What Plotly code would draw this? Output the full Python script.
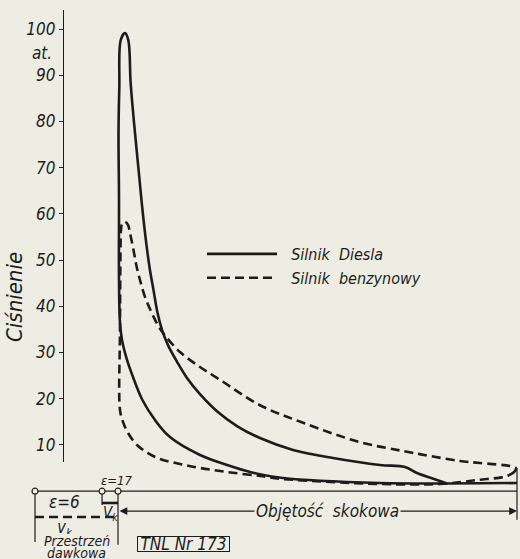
import plotly.graph_objects as go

# ---------------- data ----------------
# volume axis: piston displacement in % of stroke, 0 = TDC, 100 = BDC
STROKE = 100.0
VK_PETROL = 20.8   # clearance volume drawn for petrol engine (eps = 6)
VK_DIESEL = 4.0    # clearance volume drawn for Diesel engine (eps = 17)
Y_TICKS = [10, 20, 30, 40, 50, 60, 70, 80, 90, 100]

# Diesel engine (solid) indicator diagram, pressure in at
diesel_v = [100.0, 82.46, 65.66, 41.35, 33.08, 27.32, 20.55, 13.03, 9.27, 6.02, 3.76, 2.26,
            1.0, 0.5,
            0.25, 0.25, 0.13, 0.33, 0.68, 1.75,
            2.58, 3.13, 3.51, 4.26, 5.09, 5.89, 6.77, 7.89, 8.90, 9.90, 11.03, 12.53,
            14.79, 17.29, 20.55, 24.81, 29.82, 35.59, 43.86, 53.88, 65.66, 71.93,
            74.94, 79.95, 82.46]
diesel_p = [1.77, 1.67, 1.77, 2.86, 4.15, 5.67, 7.83, 11.7, 15.4, 19.9, 24.7, 28.4,
            32.7, 36.4,
            45.7, 63.4, 77.5, 87.5, 97.6, 99.1,
            97.6, 88.9, 84.6, 77.5, 70.1, 62.9, 55.9, 48.5, 43.5, 38.6, 34.9, 31.6,
            28.0, 24.5, 21.0, 17.3, 14.1, 11.5, 8.92, 7.18, 5.67, 5.24,
            3.94, 2.42, 1.67]

# petrol engine (dashed) indicator diagram
petrol_v = [99.7, 99.5, 97.5, 90.0, 80.7, 65.7, 41.35, 35.59, 27.32, 20.55, 15.54, 10.53,
            7.52, 4.76, 2.51, 1.25, 0.5,
            0.5, 0.63, 0.75, 1.0, 1.75, 2.51, 3.0, 3.88, 4.69, 5.51, 6.77,
            8.45, 10.28, 12.53, 15.54, 19.80, 25.56, 35.59, 46.4, 60.7, 71.4, 78.2,
            85.7, 90.7, 98.2, 99.7]
petrol_p = [5.02, 4.37, 3.29, 2.42, 1.56, 1.56, 2.64, 3.29, 4.15, 5.02, 5.89, 6.97,
            8.26, 10.0, 12.6, 15.0, 17.6,
            34.9, 52.2, 56.5, 57.8, 58.3, 57.6, 55.9, 52.2, 48.5, 45.7, 42.0,
            38.6, 35.5, 32.9, 30.1, 27.3, 24.1, 18.6, 14.8, 10.6, 8.70, 7.62,
            6.53, 6.10, 5.45, 5.02]

# ---------------- styling ----------------
PAPER = "#eeede3"
INK = "#1c1c1c"
FONT = "DejaVu Sans Condensed, Liberation Sans Narrow, DejaVu Sans, sans-serif"

W, H = 520, 559
X_RANGE = [-29.574, 100.752]
Y_RANGE = [-14.669, 106.274]

fig = go.Figure()

fig.add_trace(go.Scatter(x=diesel_v, y=diesel_p, mode="lines",
                         name="&nbsp;&nbsp;Silnik&nbsp;&nbsp;Diesla",
                         line=dict(color=INK, width=2.6, shape="spline", smoothing=1.0),
                         hoverinfo="skip"))
fig.add_trace(go.Scatter(x=petrol_v, y=petrol_p, mode="lines",
                         name="&nbsp;&nbsp;Silnik&nbsp;&nbsp;benzynowy",
                         line=dict(color=INK, width=2.6, dash="9px,5px", shape="spline", smoothing=1.0),
                         hoverinfo="skip"))

# dummy trace for the visible pressure axis
fig.add_trace(go.Scatter(x=[50], y=[50], mode="markers", marker=dict(opacity=0),
                         yaxis="y2", showlegend=False, hoverinfo="skip"))

# ---------- volume scale under the diagram ----------
thin = dict(color=INK, width=1.2)
fig.add_trace(go.Scatter(x=[-VK_PETROL, STROKE], y=[0, 0], mode="lines", line=thin,
                         showlegend=False, hoverinfo="skip"))
fig.add_trace(go.Scatter(x=[-VK_PETROL, -VK_PETROL], y=[0, -11.0], mode="lines", line=thin,
                         showlegend=False, hoverinfo="skip"))
fig.add_trace(go.Scatter(x=[0, 0], y=[0, -11.6], mode="lines", line=thin,
                         showlegend=False, hoverinfo="skip"))
fig.add_trace(go.Scatter(x=[-VK_DIESEL, -VK_DIESEL], y=[0, -3.0], mode="lines", line=thin,
                         showlegend=False, hoverinfo="skip"))
fig.add_trace(go.Scatter(x=[STROKE, STROKE], y=[5.0, -6.2], mode="lines", line=thin,
                         showlegend=False, hoverinfo="skip"))
fig.add_trace(go.Scatter(x=[-VK_DIESEL, 0], y=[-2.55, -2.55], mode="lines",
                         line=dict(color=INK, width=2.6), showlegend=False, hoverinfo="skip"))
fig.add_trace(go.Scatter(x=[-VK_PETROL, 0], y=[-5.58, -5.58], mode="lines",
                         line=dict(color=INK, width=2.6, dash="9px,5px"),
                         showlegend=False, hoverinfo="skip"))
fig.add_trace(go.Scatter(x=[-VK_PETROL, -VK_DIESEL, 0], y=[0, 0, 0], mode="markers",
                         marker=dict(symbol="circle", size=6, color=PAPER,
                                     line=dict(color=INK, width=1.2)),
                         showlegend=False, hoverinfo="skip"))

tf = dict(family=FONT, size=17, color=INK, style="italic")
sf = dict(family=FONT, size=14, color=INK, style="italic")

# double arrow for the stroke volume
fig.add_annotation(x=STROKE, y=-4.3, ax=0, ay=-4.3, xref="x", yref="y", axref="x", ayref="y",
                   text="", showarrow=True, arrowhead=2, arrowside="end+start",
                   arrowsize=1.3, arrowwidth=1.2, arrowcolor=INK)
fig.add_annotation(x=52.6, y=-4.3, xref="x", yref="y", text="Objętość&nbsp;&nbsp;skokowa",
                   showarrow=False, font=tf, bgcolor=PAPER)

fig.add_annotation(x=-0.25, y=2.4, xref="x", yref="y", text="ε=17", showarrow=False,
                   font=dict(family=FONT, size=13, color=INK, style="italic"))
fig.add_annotation(x=-13.3, y=-2.4, xref="x", yref="y", text="ε=6", showarrow=False, font=tf)
fig.add_annotation(x=-2.0, y=-4.9, xref="x", yref="y", text="V<sub>k</sub>", showarrow=False,
                   font=dict(family=FONT, size=15, color=INK, style="italic"))
fig.add_annotation(x=-13.3, y=-8.0, xref="x", yref="y", text="V<sub>k</sub>", showarrow=False,
                   font=dict(family=FONT, size=15, color=INK, style="italic"), height=11)
fig.add_annotation(x=-10.3, y=-10.6, xref="x", yref="y", text="Przestrzeń", showarrow=False,
                   font=sf, height=11)
fig.add_annotation(x=-10.3, y=-13.3, xref="x", yref="y", text="dawkowa", showarrow=False,
                   font=sf, height=11)
fig.add_annotation(x=16.4, y=-11.5, xref="x", yref="y", text="TNL&nbsp;Nr&nbsp;173", showarrow=False,
                   font=dict(family=FONT, size=17, color=INK, style="italic"),
                   width=91, height=14, bordercolor=INK, borderwidth=1, borderpad=0)

# axis labels
fig.add_annotation(x=-19.0, y=94.8, xref="x", yref="y", text="at.", showarrow=False, font=tf)
fig.add_annotation(x=14 / W, y=1 - 297 / H, xref="paper", yref="paper", text="Ciśnienie",
                   textangle=-90, showarrow=False, xanchor="center", yanchor="middle",
                   font=dict(family=FONT, size=22, color=INK, style="italic"))

fig.update_layout(
    width=W, height=H, autosize=False,
    margin=dict(l=0, r=0, t=0, b=0),
    paper_bgcolor=PAPER, plot_bgcolor="rgba(0,0,0,0)",
    showlegend=True,
    legend=dict(x=202 / W, y=1 - 237 / H, xanchor="left", yanchor="top",
                bgcolor="rgba(0,0,0,0)", itemwidth=70,
                font=dict(family=FONT, size=16, color=INK, style="italic")),
    xaxis=dict(range=X_RANGE, visible=False, fixedrange=True),
    yaxis=dict(range=Y_RANGE, visible=False, fixedrange=True),
    yaxis2=dict(range=[6.318, 104.111], domain=[1 - 462 / H, 1 - 10 / H],
                anchor="free", position=63 / W, side="left",
                showline=True, linecolor=INK, linewidth=1.3,
                ticks="outside", ticklen=4, tickcolor=INK, tickwidth=1.2,
                tickvals=Y_TICKS, showgrid=False, zeroline=False,
                tickfont=tf, fixedrange=True),
)

fig.write_html("out.html", config={"displayModeBar": False},
               post_script="document.body.style.margin='0';"
                           "document.body.style.overflow='hidden';")
